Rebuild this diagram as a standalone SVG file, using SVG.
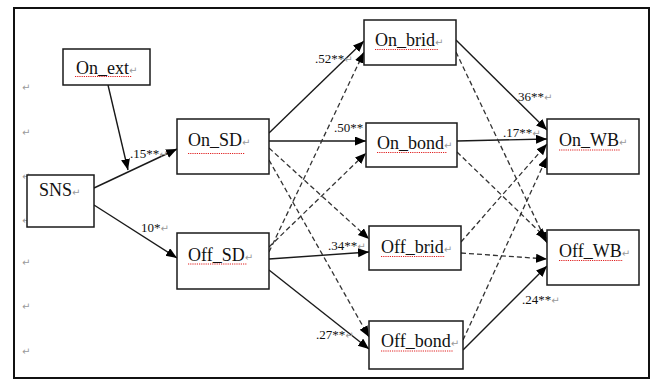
<svg xmlns="http://www.w3.org/2000/svg" width="654" height="379" viewBox="0 0 654 379">
<style>
.box{fill:#fff;stroke:#1a1a1a;stroke-width:1.5}
.lbl{font-family:"Liberation Serif","Times New Roman",serif;font-size:18px;fill:#111}
.coef{font-family:"Liberation Serif","Times New Roman",serif;font-size:13px;fill:#111}
.pm{font-family:"DejaVu Sans",sans-serif;font-size:10px;fill:#9a9a9a}
.sq{stroke:#e02020;stroke-width:1;stroke-dasharray:1.2 1;fill:none}
.sol{stroke:#1a1a1a;stroke-width:1.4;fill:none;marker-end:url(#ah)}
.dsh{stroke:#333;stroke-width:1.3;fill:none;stroke-dasharray:5 3;marker-end:url(#ah)}
</style>
<defs>
<marker id="ah" markerUnits="userSpaceOnUse" markerWidth="12" markerHeight="10" refX="11" refY="4.5" orient="auto">
<path d="M0,0 L11,4.5 L0,9 z" fill="#000"/>
</marker>
</defs>
<rect x="0" y="0" width="654" height="379" fill="#fff"/>
<rect x="14" y="8" width="635" height="370" fill="#fff" stroke="#111" stroke-width="2"/>
<g id="margin-marks">
<text class="pm" x="22" y="91">↵</text>
<text class="pm" x="22" y="136">↵</text>
<text class="pm" x="22" y="180">↵</text>
<text class="pm" x="22" y="224">↵</text>
<text class="pm" x="22" y="266">↵</text>
<text class="pm" x="22" y="310">↵</text>
<text class="pm" x="22" y="355">↵</text>
</g>
<g id="connectors">
<line class="sol" x1="108" y1="85" x2="128" y2="170"/>
<line class="sol" x1="94" y1="188" x2="177" y2="149"/>
<line class="sol" x1="94" y1="205" x2="177" y2="258"/>
<line class="sol" x1="269" y1="133" x2="364" y2="41"/>
<line class="sol" x1="269" y1="141" x2="366" y2="141"/>
<line class="sol" x1="269" y1="259" x2="369" y2="252"/>
<line class="sol" x1="269" y1="270" x2="369" y2="349"/>
<line class="sol" x1="456" y1="40" x2="547" y2="130"/>
<line class="sol" x1="457" y1="141" x2="547" y2="139"/>
<line class="sol" x1="463" y1="350" x2="547" y2="266"/>
<line class="dsh" x1="269" y1="148" x2="369" y2="239"/>
<line class="dsh" x1="269" y1="160" x2="369" y2="337"/>
<line class="dsh" x1="269" y1="252" x2="364" y2="52"/>
<line class="dsh" x1="269" y1="247" x2="366" y2="153"/>
<line class="dsh" x1="456" y1="52" x2="547" y2="243"/>
<line class="dsh" x1="457" y1="152" x2="547" y2="239"/>
<line class="dsh" x1="461" y1="242" x2="547" y2="144"/>
<line class="dsh" x1="463" y1="340" x2="547" y2="157"/>
<line class="dsh" x1="461" y1="253" x2="547" y2="259"/>
</g>
<g id="coefficients">
<text class="coef" x="130" y="158">.15**<tspan class="pm">↵</tspan></text>
<text class="coef" x="141" y="232">10*<tspan class="pm">↵</tspan></text>
<text class="coef" x="315" y="63">.52**<tspan class="pm">↵</tspan></text>
<text class="coef" x="334" y="132">.50**</text>
<text class="coef" x="328" y="250">.34**<tspan class="pm">↵</tspan></text>
<text class="coef" x="316" y="339">.27**<tspan class="pm">↵</tspan></text>
<text class="coef" x="518" y="101">36**<tspan class="pm">↵</tspan></text>
<text class="coef" x="503" y="137">.17**<tspan class="pm">↵</tspan></text>
<text class="coef" x="522" y="304">.24**<tspan class="pm">↵</tspan></text>
</g>
<g id="On_ext">
<rect class="box" x="63" y="49" width="87" height="36"/>
<text class="lbl" x="76" y="74">On_ext<tspan class="pm">↵</tspan></text>
<line class="sq" x1="75" y1="76.5" x2="132" y2="76.5"/>
</g>
<g id="SNS">
<rect class="box" x="27" y="175" width="67" height="52"/>
<text class="lbl" x="39" y="196">SNS<tspan class="pm">↵</tspan></text>
</g>
<g id="On_SD">
<rect class="box" x="177" y="119" width="92" height="55"/>
<text class="lbl" x="188" y="146">On_SD<tspan class="pm">↵</tspan></text>
<line class="sq" x1="188" y1="153.5" x2="245" y2="153.5"/>
</g>
<g id="Off_SD">
<rect class="box" x="177" y="233" width="92" height="56"/>
<text class="lbl" x="188" y="261">Off_SD<tspan class="pm">↵</tspan></text>
<line class="sq" x1="188" y1="264" x2="247" y2="264"/>
</g>
<g id="On_brid">
<rect class="box" x="364" y="20" width="92" height="45"/>
<text class="lbl" x="375" y="46">On_brid<tspan class="pm">↵</tspan></text>
<line class="sq" x1="375" y1="49.5" x2="438" y2="49.5"/>
</g>
<g id="On_bond">
<rect class="box" x="366" y="123" width="91" height="44"/>
<text class="lbl" x="377" y="149">On_bond<tspan class="pm">↵</tspan></text>
<line class="sq" x1="377" y1="152.5" x2="447" y2="152.5"/>
</g>
<g id="Off_brid">
<rect class="box" x="369" y="226" width="92" height="44"/>
<text class="lbl" x="381" y="253">Off_brid<tspan class="pm">↵</tspan></text>
<line class="sq" x1="381" y1="256.5" x2="445" y2="256.5"/>
</g>
<g id="Off_bond">
<rect class="box" x="369" y="321" width="94" height="48"/>
<text class="lbl" x="381" y="347">Off_bond<tspan class="pm">↵</tspan></text>
<line class="sq" x1="381" y1="351" x2="453" y2="351"/>
</g>
<g id="On_WB">
<rect class="box" x="547" y="119" width="92" height="55"/>
<text class="lbl" x="559" y="146">On_WB<tspan class="pm">↵</tspan></text>
<line class="sq" x1="559" y1="150" x2="620" y2="150"/>
</g>
<g id="Off_WB">
<rect class="box" x="547" y="230" width="92" height="55"/>
<text class="lbl" x="559" y="257">Off_WB<tspan class="pm">↵</tspan></text>
<line class="sq" x1="559" y1="260.5" x2="623" y2="260.5"/>
</g>
</svg>
